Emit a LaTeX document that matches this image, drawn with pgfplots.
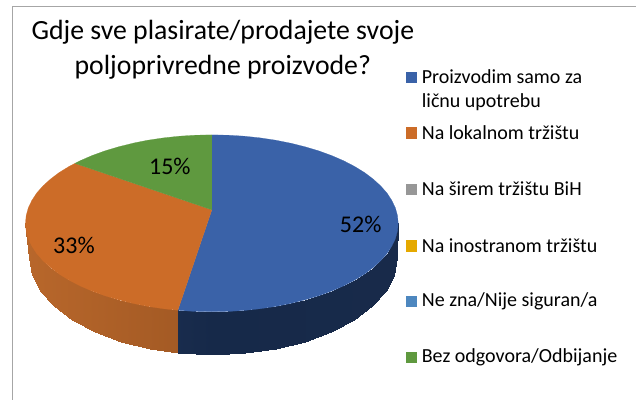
\documentclass[border=0pt]{standalone}
\usepackage{pgfplots}
\pgfplotsset{compat=1.18}
\usepackage{fontspec}
\setmainfont{Carlito}
\definecolor{cblue}{HTML}{3A62A8}
\definecolor{corange}{HTML}{CC6C28}
\definecolor{cgreen}{HTML}{5F993F}
\definecolor{cgray}{HTML}{979797}
\definecolor{cyellow}{HTML}{E5A900}
\definecolor{clblue}{HTML}{4D87BF}
\definecolor{cframe}{HTML}{A6A6A6}
\definecolor{wa}{HTML}{182A4A}
\definecolor{wb}{HTML}{162949}
\definecolor{wf}{HTML}{24385F}
\definecolor{wg}{HTML}{87481B}
\definecolor{wn}{HTML}{B8672B}
\begin{document}
\begin{tikzpicture}
\begin{axis}[
  scale only axis, width=636pt, height=400pt,
  xmin=0, xmax=636, ymin=0, ymax=400,
  hide axis, clip=false,
  every axis plot/.append style={line join=round}
]
\path (axis cs:0,0) rectangle (axis cs:636,400);
% frame
\addplot[cframe, line width=1pt] coordinates {(13,0) (13,393) (636,393)};
% side wall of the blue slice
\addplot[surf, shader=interp, mesh/rows=2, mesh/cols=11, point meta=x,
  colormap={bwall}{color(0)=(wf) color(0.5)=(wb) color(1)=(wa)}] coordinates {
 (178,89.5)(212,88)(244.4,89.3)(275.8,93.3)(305.3,99.9)(331.9,108.7)(354.9,119.6)(373.5,132.25)(387.3,146.2)(395.7,161.1)(398.5,176.5)
 (178,46.8)(213,45)(244.9,46.5)(275.9,50.9)(305,58)(331.3,67.7)(354,79.6)(372.3,93.5)(385.9,108.8)(394.2,125.2)(397,142)};
% side wall of the orange slice
\addplot[surf, shader=interp, mesh/rows=2, mesh/cols=10, point meta=x,
  colormap={owall}{color(0)=(wn) color(1)=(wg)}] coordinates {
 (25.5,176.5)(28.3,161.1)(36.7,146.2)(50.5,132.25)(69.1,119.6)(92.1,108.7)(118.7,99.9)(148.2,93.3)(178,89.5)(178,89.5)
 (29,142)(31.8,125.2)(40.1,108.8)(53.7,93.5)(72,79.6)(94.7,67.7)(121,58)(150.1,50.9)(178,46.8)(178,46.8)};
% blue top (52%)
\addplot[fill=cblue, draw=cblue, line width=0.2pt] coordinates {(212,190)(178,89.5)(179.6,89.3)(195.7,88.3)(212,88)(228.3,88.3)(244.4,89.3)(260.3,91)(275.8,93.3)(290.8,96.3)(305.3,99.9)(319,104)(331.9,108.7)(343.9,113.9)(354.9,119.6)(364.8,125.7)(373.5,132.25)(381,139.1)(387.3,146.2)(392.1,153.6)(395.7,161.1)(397.8,168.8)(398.5,176.5)(397.8,184.2)(395.7,191.9)(392.1,199.4)(387.3,206.8)(381,213.9)(373.5,220.75)(364.8,227.3)(354.9,233.4)(343.9,239.1)(331.9,244.3)(319,249)(305.3,253.1)(290.8,256.7)(275.8,259.7)(260.3,262)(244.4,263.7)(228.3,264.7)(212,265)} -- cycle;
% orange top (33%)
\addplot[fill=corange, draw=corange, line width=0.2pt] coordinates {(212,190)(178,89.5)(163.7,91)(148.2,93.3)(133.2,96.3)(118.7,99.9)(105,104)(92.1,108.7)(80.1,113.9)(69.1,119.6)(59.2,125.7)(50.5,132.25)(43,139.1)(36.7,146.2)(31.9,153.6)(28.3,161.1)(26.2,168.8)(25.5,176.5)(26.2,184.2)(28.3,191.9)(31.9,199.4)(36.7,206.8)(43,213.9)(50.5,220.75)(59.2,227.3)(69.1,233.4)(75,236.5)} -- cycle;
% green top (15%)
\addplot[fill=cgreen, draw=cgreen, line width=0.2pt] coordinates {(212,190)(75,236.5)(80.1,239.1)(92.1,244.3)(105,249)(118.7,253.1)(133.2,256.7)(148.2,259.7)(163.7,262)(179.6,263.7)(195.7,264.7)(212,265)} -- cycle;
% labels
\node[font=\fontsize{24}{24}\selectfont, anchor=center] at (axis cs:361,175) {52\%};
\node[font=\fontsize{24}{24}\selectfont, anchor=center] at (axis cs:74,154) {33\%};
\node[font=\fontsize{24}{24}\selectfont, anchor=center] at (axis cs:170,233) {15\%};
% title
\node[font=\fontsize{27.8}{35}\selectfont, align=center, anchor=center] at (axis cs:223,350.5) {Gdje sve plasirate/prodajete svoje\\poljoprivredne proizvode?};
% legend
\addplot[fill=cblue, draw=none] coordinates {(406,328)(417,328)(417,317)(406,317)} -- cycle;
\addplot[fill=corange, draw=none] coordinates {(406,273)(417,273)(417,261)(406,261)} -- cycle;
\addplot[fill=cgray, draw=none] coordinates {(406,216)(417,216)(417,205)(406,205)} -- cycle;
\addplot[fill=cyellow, draw=none] coordinates {(406,160)(417,160)(417,148)(406,148)} -- cycle;
\addplot[fill=clblue, draw=none] coordinates {(406,104)(417,104)(417,93)(406,93)} -- cycle;
\addplot[fill=cgreen, draw=none] coordinates {(406,48)(417,48)(417,37)(406,37)} -- cycle;
\begin{scope}[every node/.style={font=\fontsize{20}{20}\selectfont, anchor=west, inner sep=0pt}]
\node at (axis cs:422,323) {Proizvodim samo za};
\node at (axis cs:422,298) {ličnu upotrebu};
\node at (axis cs:422,267) {Na lokalnom tržištu};
\node at (axis cs:422,211) {Na širem tržištu BiH};
\node at (axis cs:422,154) {Na inostranom tržištu};
\node at (axis cs:422,98) {Ne zna/Nije siguran/a};
\node at (axis cs:422,42) {Bez odgovora/Odbijanje};
\end{scope}
\end{axis}
\end{tikzpicture}
\end{document}
